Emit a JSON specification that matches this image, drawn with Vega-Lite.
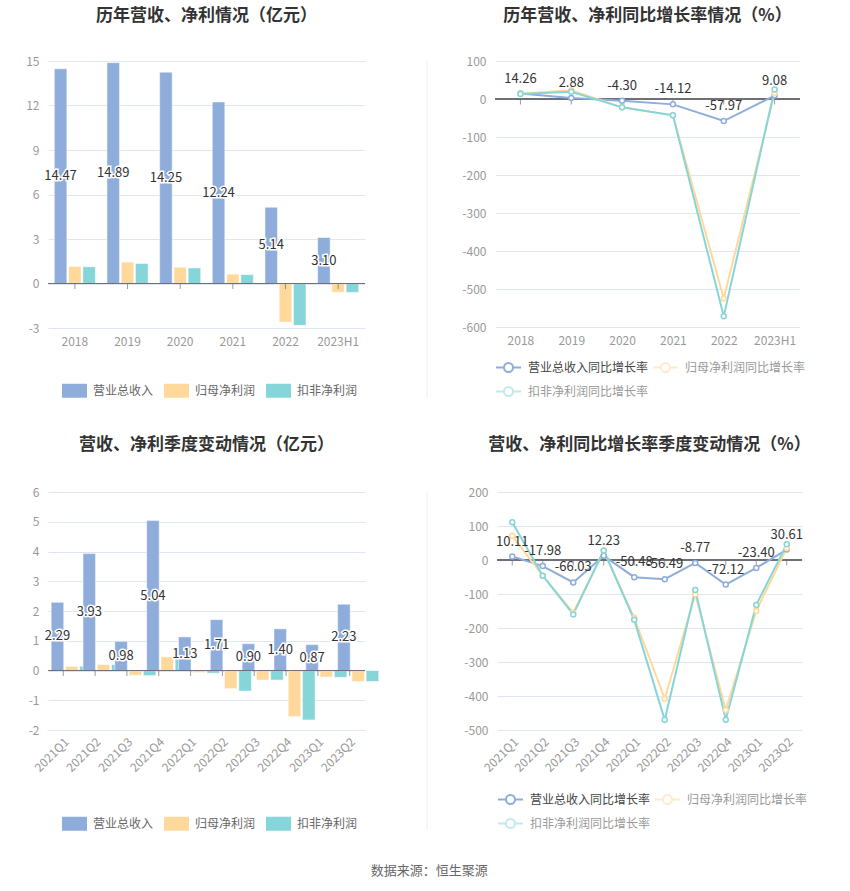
{
  "$schema": "https://vega.github.io/schema/vega-lite/v6.json",
  "padding": {"left": 0, "top": 7, "right": 0, "bottom": 0},
  "background": "white",
  "config": {
    "font": "Noto Sans CJK SC",
    "locale": {"number": {"decimal": ".", "thousands": ",", "grouping": [3], "currency": ["", ""], "minus": "-"}},
    "view": {"stroke": null},
    "axis": {"labelFont": "Noto Sans CJK SC", "labelColor": "#999999", "labelFontSize": 12, "gridColor": "#E0E6F1", "domain": false, "ticks": false},
    "title": {"font": "Noto Sans CJK SC", "fontSize": 17, "fontWeight": "bold", "color": "#333333", "anchor": "middle", "offset": 30},
    "legend": {"labelFont": "Noto Sans CJK SC", "labelFontSize": 12, "labelColor": "#666666", "orient": "bottom", "direction": "horizontal"}
  },
  "datasets": {
    "annual": [
      {"period": "2018", "营业总收入": 14.47, "归母净利润": 1.15, "扣非净利润": 1.13},
      {"period": "2019", "营业总收入": 14.89, "归母净利润": 1.44, "扣非净利润": 1.35},
      {"period": "2020", "营业总收入": 14.25, "归母净利润": 1.10, "扣非净利润": 1.05},
      {"period": "2021", "营业总收入": 12.24, "归母净利润": 0.63, "扣非净利润": 0.60},
      {"period": "2022", "营业总收入": 5.14, "归母净利润": -2.60, "扣非净利润": -2.82},
      {"period": "2023H1", "营业总收入": 3.10, "归母净利润": -0.59, "扣非净利润": -0.60}
    ],
    "annualGrowth": [
      {"period": "2018", "营业总收入同比增长率": 14.26, "归母净利润同比增长率": 14, "扣非净利润同比增长率": 13},
      {"period": "2019", "营业总收入同比增长率": 2.88, "归母净利润同比增长率": 23, "扣非净利润同比增长率": 19},
      {"period": "2020", "营业总收入同比增长率": -4.30, "归母净利润同比增长率": -22, "扣非净利润同比增长率": -22},
      {"period": "2021", "营业总收入同比增长率": -14.12, "归母净利润同比增长率": -43, "扣非净利润同比增长率": -43},
      {"period": "2022", "营业总收入同比增长率": -57.97, "归母净利润同比增长率": -525, "扣非净利润同比增长率": -572},
      {"period": "2023H1", "营业总收入同比增长率": 9.08, "归母净利润同比增长率": 15, "扣非净利润同比增长率": 25}
    ],
    "quarter": [
      {"period": "2021Q1", "营业总收入": 2.29, "归母净利润": 0.14, "扣非净利润": 0.14},
      {"period": "2021Q2", "营业总收入": 3.93, "归母净利润": 0.20, "扣非净利润": 0.20},
      {"period": "2021Q3", "营业总收入": 0.98, "归母净利润": -0.16, "扣非净利润": -0.17},
      {"period": "2021Q4", "营业总收入": 5.04, "归母净利润": 0.46, "扣非净利润": 0.46},
      {"period": "2022Q1", "营业总收入": 1.13, "归母净利润": -0.07, "扣非净利润": -0.09},
      {"period": "2022Q2", "营业总收入": 1.71, "归母净利润": -0.61, "扣非净利润": -0.69},
      {"period": "2022Q3", "营业总收入": 0.90, "归母净利润": -0.32, "扣非净利润": -0.32},
      {"period": "2022Q4", "营业总收入": 1.40, "归母净利润": -1.55, "扣非净利润": -1.66},
      {"period": "2023Q1", "营业总收入": 0.87, "归母净利润": -0.22, "扣非净利润": -0.23},
      {"period": "2023Q2", "营业总收入": 2.23, "归母净利润": -0.37, "扣非净利润": -0.37}
    ],
    "quarterGrowth": [
      {"period": "2021Q1", "营业总收入同比增长率": 10.11, "归母净利润同比增长率": 71, "扣非净利润同比增长率": 111},
      {"period": "2021Q2", "营业总收入同比增长率": -17.98, "归母净利润同比增长率": -46, "扣非净利润同比增长率": -46},
      {"period": "2021Q3", "营业总收入同比增长率": -66.03, "归母净利润同比增长率": -155, "扣非净利润同比增长率": -160},
      {"period": "2021Q4", "营业总收入同比增长率": 12.23, "归母净利润同比增长率": 27, "扣非净利润同比增长率": 28},
      {"period": "2022Q1", "营业总收入同比增长率": -50.48, "归母净利润同比增长率": -170, "扣非净利润同比增长率": -176},
      {"period": "2022Q2", "营业总收入同比增长率": -56.49, "归母净利润同比增长率": -408, "扣非净利润同比增长率": -470},
      {"period": "2022Q3", "营业总收入同比增长率": -8.77, "归母净利润同比增长率": -101, "扣非净利润同比增长率": -88},
      {"period": "2022Q4", "营业总收入同比增长率": -72.12, "归母净利润同比增长率": -441, "扣非净利润同比增长率": -470},
      {"period": "2023Q1", "营业总收入同比增长率": -23.40, "归母净利润同比增长率": -150, "扣非净利润同比增长率": -132},
      {"period": "2023Q2", "营业总收入同比增长率": 30.61, "归母净利润同比增长率": 35, "扣非净利润同比增长率": 46}
    ]
  },
  "title": {"text": "数据来源：恒生聚源", "orient": "bottom", "anchor": "middle", "fontSize": 13, "fontWeight": "normal", "color": "#666666", "offset": 20, "dx": 24},
  "spacing": 24,
  "resolve": {"scale": {"color": "independent"}, "legend": {"color": "independent"}},
  "vconcat": [
    {
      "spacing": 10,
      "resolve": {"scale": {"color": "independent"}, "legend": {"color": "independent"}},
      "hconcat": [
        {
          "width": 317, "height": 267,
          "title": {"text": "历年营收、净利情况（亿元）"},
          "data": {"name": "annual"},
          "transform": [{"fold": ["营业总收入", "归母净利润", "扣非净利润"], "as": ["series", "value"]}],
          "encoding": {
            "x": {"field": "period", "type": "nominal", "sort": null, "title": null, "scale": {"paddingInner": 0.22, "paddingOuter": 0.12}, "axis": {"labelAngle": 0, "labelPadding": 8}},
            "y": {"field": "value", "type": "quantitative", "title": null, "scale": {"domain": [-3, 15], "nice": false}, "axis": {"values": [-3, 0, 3, 6, 9, 12, 15], "minExtent": 48, "maxExtent": 48, "labelPadding": 9}}
          },
          "layer": [
            {
              "mark": {"type": "bar", "stroke": "white", "strokeWidth": 0.5},
              "encoding": {
                "xOffset": {"field": "series", "sort": ["营业总收入", "归母净利润", "扣非净利润"], "scale": {"paddingInner": 0.12}},
                "color": {"field": "series", "type": "nominal", "sort": ["营业总收入", "归母净利润", "扣非净利润"], "scale": {"domain": ["营业总收入", "归母净利润", "扣非净利润"], "range": ["#8FADDB", "#FFD99B", "#86D5D8"]},
                  "legend": {"title": null, "offset": 17, "padding": 14, "symbolType": "M-1,-0.56H1V0.56H-1Z", "symbolSize": 625, "symbolStrokeWidth": 0, "labelOffset": 6, "columnPadding": 10,
                    "encode": {"labels": {"update": {"fill": {"signal": "datum.index === 0 ? '#444444' : '#999999'"}}}}}}
              }
            },
            {"mark": {"type": "rule", "color": "#6E7079"}, "encoding": {"x": null, "y": {"datum": 0, "type": "quantitative", "title": null, "axis": {"values": [-3, 0, 3, 6, 9, 12, 15], "minExtent": 48, "maxExtent": 48, "labelPadding": 9}}}},
            {"transform": [{"filter": "datum.series === '营业总收入'"}], "mark": {"type": "tick", "orient": "vertical", "size": 5, "thickness": 1, "yOffset": 3, "color": "#6E7079"}, "encoding": {"y": {"datum": 0, "type": "quantitative", "title": null, "axis": {"values": [-3, 0, 3, 6, 9, 12, 15], "minExtent": 48, "maxExtent": 48, "labelPadding": 9}}}},
            {
              "transform": [{"filter": "datum.series === '营业总收入'"}],
              "mark": {"type": "text", "fontSize": 13, "color": "#333333", "stroke": "white", "strokeWidth": 3, "baseline": "middle"},
              "encoding": {
                "xOffset": {"field": "series", "sort": ["营业总收入", "归母净利润", "扣非净利润"]},
                "y": {"field": "value", "type": "quantitative", "stack": "zero", "bandPosition": 0.5, "title": null, "axis": {"values": [-3, 0, 3, 6, 9, 12, 15], "minExtent": 48, "maxExtent": 48, "labelPadding": 9}},
                "text": {"field": "value", "type": "quantitative", "format": ".2f"}
              }
            },
            {
              "transform": [{"filter": "datum.series === '营业总收入'"}],
              "mark": {"type": "text", "fontSize": 13, "color": "#333333", "baseline": "middle"},
              "encoding": {
                "xOffset": {"field": "series", "sort": ["营业总收入", "归母净利润", "扣非净利润"]},
                "y": {"field": "value", "type": "quantitative", "stack": "zero", "bandPosition": 0.5, "title": null, "axis": {"values": [-3, 0, 3, 6, 9, 12, 15], "minExtent": 48, "maxExtent": 48, "labelPadding": 9}},
                "text": {"field": "value", "type": "quantitative", "format": ".2f"}
              }
            }
          ]
        },
        {
          "width": 55, "height": 337,
          "data": {"values": [{}]},
          "mark": {"type": "rule", "color": "#EEEEEE"},
          "encoding": {"x": {"datum": 45, "type": "quantitative", "scale": {"domain": [0, 55]}, "axis": null}}
        },
        {
          "width": 305, "height": 266,
          "title": {"text": "历年营收、净利同比增长率情况（%）"},
          "data": {"name": "annualGrowth"},
          "transform": [{"fold": ["营业总收入同比增长率", "归母净利润同比增长率", "扣非净利润同比增长率"], "as": ["series", "value"]}],
          "encoding": {
            "x": {"field": "period", "type": "ordinal", "sort": null, "title": null, "scale": {"type": "point", "padding": 0.5}, "axis": {"labelAngle": 0, "labelPadding": 8}},
            "y": {"field": "value", "type": "quantitative", "title": null, "scale": {"domain": [-600, 100], "nice": false}, "axis": {"values": [-600, -500, -400, -300, -200, -100, 0, 100], "minExtent": 48, "maxExtent": 48, "labelPadding": 9}}
          },
          "layer": [
            {"mark": {"type": "rule", "color": "#6E7079"}, "encoding": {"x": null, "y": {"datum": 0, "type": "quantitative", "title": null, "axis": {"values": [-600, -500, -400, -300, -200, -100, 0, 100], "minExtent": 48, "maxExtent": 48, "labelPadding": 9}}}},
            {"transform": [{"filter": "datum.series === '营业总收入同比增长率'"}], "mark": {"type": "tick", "orient": "vertical", "size": 5, "thickness": 1, "yOffset": 3, "color": "#6E7079"}, "encoding": {"y": {"datum": 0, "type": "quantitative", "title": null, "axis": {"values": [-600, -500, -400, -300, -200, -100, 0, 100], "minExtent": 48, "maxExtent": 48, "labelPadding": 9}}}},
            {
              "mark": {"type": "line", "strokeWidth": 2},
              "encoding": {
                "color": {"field": "series", "type": "nominal", "sort": ["营业总收入同比增长率", "归母净利润同比增长率", "扣非净利润同比增长率"], "scale": {"domain": ["营业总收入同比增长率", "归母净利润同比增长率", "扣非净利润同比增长率"], "range": ["#8FADDB", "#FFD99B", "#86D5D8"]},
                  "legend": {"title": null, "columns": 2, "offset": 8, "symbolType": "M-1,0H-0.36M0.36,0H1M0.36,0A0.36,0.36,0,1,1,-0.36,0A0.36,0.36,0,1,1,0.36,0", "symbolSize": 625, "symbolStrokeWidth": 2, "symbolFillColor": "white", "labelOffset": 6, "columnPadding": 0, "rowPadding": 2,
                    "encode": {"labels": {"update": {"fill": {"signal": "datum.index === 0 ? '#444444' : '#999999'"}}}, "symbols": {"update": {"opacity": {"signal": "datum.index === 0 ? 1 : 0.5"}}}}}}
              }
            },
            {
              "mark": {"type": "point", "filled": false, "fill": "white", "strokeWidth": 1.5, "size": 25, "opacity": 1},
              "encoding": {
                "color": {"field": "series", "type": "nominal", "sort": ["营业总收入同比增长率", "归母净利润同比增长率", "扣非净利润同比增长率"], "scale": {"domain": ["营业总收入同比增长率", "归母净利润同比增长率", "扣非净利润同比增长率"], "range": ["#8FADDB", "#FFD99B", "#86D5D8"]},
                  "legend": {"title": null, "columns": 2, "offset": 8, "symbolType": "M-1,0H-0.36M0.36,0H1M0.36,0A0.36,0.36,0,1,1,-0.36,0A0.36,0.36,0,1,1,0.36,0", "symbolSize": 625, "symbolStrokeWidth": 2, "symbolFillColor": "white", "labelOffset": 6, "columnPadding": 0, "rowPadding": 2,
                    "encode": {"labels": {"update": {"fill": {"signal": "datum.index === 0 ? '#444444' : '#999999'"}}}, "symbols": {"update": {"opacity": {"signal": "datum.index === 0 ? 1 : 0.5"}}}}}}
              }
            },
            {
              "transform": [{"filter": "datum.series === '营业总收入同比增长率'"}],
              "mark": {"type": "text", "fontSize": 13, "color": "#333333", "dy": -15},
              "encoding": {"text": {"field": "value", "type": "quantitative", "format": ".2f"}}
            }
          ]
        }
      ]
    },
    {
      "spacing": 10,
      "resolve": {"scale": {"color": "independent"}, "legend": {"color": "independent"}},
      "hconcat": [
        {
          "width": 317, "height": 238,
          "title": {"text": "营收、净利季度变动情况（亿元）", "offset": 32},
          "data": {"name": "quarter"},
          "transform": [{"fold": ["营业总收入", "归母净利润", "扣非净利润"], "as": ["series", "value"]}],
          "encoding": {
            "x": {"field": "period", "type": "nominal", "sort": null, "title": null, "scale": {"paddingInner": 0.24, "paddingOuter": 0.1}, "axis": {"labelAngle": -45, "labelPadding": 6}},
            "y": {"field": "value", "type": "quantitative", "title": null, "scale": {"domain": [-2, 6], "nice": false}, "axis": {"values": [-2, -1, 0, 1, 2, 3, 4, 5, 6], "minExtent": 48, "maxExtent": 48, "labelPadding": 9}}
          },
          "layer": [
            {
              "mark": {"type": "bar", "stroke": "white", "strokeWidth": 0.5},
              "encoding": {
                "xOffset": {"field": "series", "sort": ["营业总收入", "归母净利润", "扣非净利润"], "scale": {"paddingInner": 0.12}},
                "color": {"field": "series", "type": "nominal", "sort": ["营业总收入", "归母净利润", "扣非净利润"], "scale": {"domain": ["营业总收入", "归母净利润", "扣非净利润"], "range": ["#8FADDB", "#FFD99B", "#86D5D8"]},
                  "legend": {"title": null, "offset": 23, "padding": 14, "symbolType": "M-1,-0.56H1V0.56H-1Z", "symbolSize": 625, "symbolStrokeWidth": 0, "labelOffset": 6, "columnPadding": 10,
                    "encode": {"labels": {"update": {"fill": {"signal": "datum.index === 0 ? '#444444' : '#999999'"}}}}}}
              }
            },
            {"mark": {"type": "rule", "color": "#6E7079"}, "encoding": {"x": null, "y": {"datum": 0, "type": "quantitative", "title": null, "axis": {"values": [-2, -1, 0, 1, 2, 3, 4, 5, 6], "minExtent": 48, "maxExtent": 48, "labelPadding": 9}}}},
            {"transform": [{"filter": "datum.series === '营业总收入'"}], "mark": {"type": "tick", "orient": "vertical", "size": 5, "thickness": 1, "yOffset": 3, "color": "#6E7079"}, "encoding": {"y": {"datum": 0, "type": "quantitative", "title": null, "axis": {"values": [-2, -1, 0, 1, 2, 3, 4, 5, 6], "minExtent": 48, "maxExtent": 48, "labelPadding": 9}}}},
            {
              "transform": [{"filter": "datum.series === '营业总收入'"}],
              "mark": {"type": "text", "fontSize": 13, "color": "#333333", "stroke": "white", "strokeWidth": 3, "baseline": "middle"},
              "encoding": {
                "xOffset": {"field": "series", "sort": ["营业总收入", "归母净利润", "扣非净利润"]},
                "y": {"field": "value", "type": "quantitative", "stack": "zero", "bandPosition": 0.5, "title": null, "axis": {"values": [-2, -1, 0, 1, 2, 3, 4, 5, 6], "minExtent": 48, "maxExtent": 48, "labelPadding": 9}},
                "text": {"field": "value", "type": "quantitative", "format": ".2f"}
              }
            },
            {
              "transform": [{"filter": "datum.series === '营业总收入'"}],
              "mark": {"type": "text", "fontSize": 13, "color": "#333333", "baseline": "middle"},
              "encoding": {
                "xOffset": {"field": "series", "sort": ["营业总收入", "归母净利润", "扣非净利润"]},
                "y": {"field": "value", "type": "quantitative", "stack": "zero", "bandPosition": 0.5, "title": null, "axis": {"values": [-2, -1, 0, 1, 2, 3, 4, 5, 6], "minExtent": 48, "maxExtent": 48, "labelPadding": 9}},
                "text": {"field": "value", "type": "quantitative", "format": ".2f"}
              }
            }
          ]
        },
        {
          "width": 50, "height": 338,
          "data": {"values": [{}]},
          "mark": {"type": "rule", "color": "#EEEEEE"},
          "encoding": {"x": {"datum": 38, "type": "quantitative", "scale": {"domain": [0, 50]}, "axis": null}}
        },
        {
          "width": 305, "height": 238,
          "title": {"text": "营收、净利同比增长率季度变动情况（%）", "offset": 32},
          "data": {"name": "quarterGrowth"},
          "transform": [{"fold": ["营业总收入同比增长率", "归母净利润同比增长率", "扣非净利润同比增长率"], "as": ["series", "value"]}],
          "encoding": {
            "x": {"field": "period", "type": "ordinal", "sort": null, "title": null, "scale": {"type": "point", "padding": 0.5}, "axis": {"labelAngle": -45, "labelPadding": 6}},
            "y": {"field": "value", "type": "quantitative", "title": null, "scale": {"domain": [-500, 200], "nice": false}, "axis": {"values": [-500, -400, -300, -200, -100, 0, 100, 200], "minExtent": 48, "maxExtent": 48, "labelPadding": 9}}
          },
          "layer": [
            {"mark": {"type": "rule", "color": "#6E7079"}, "encoding": {"x": null, "y": {"datum": 0, "type": "quantitative", "title": null, "axis": {"values": [-500, -400, -300, -200, -100, 0, 100, 200], "minExtent": 48, "maxExtent": 48, "labelPadding": 9}}}},
            {"transform": [{"filter": "datum.series === '营业总收入同比增长率'"}], "mark": {"type": "tick", "orient": "vertical", "size": 5, "thickness": 1, "yOffset": 3, "color": "#6E7079"}, "encoding": {"y": {"datum": 0, "type": "quantitative", "title": null, "axis": {"values": [-500, -400, -300, -200, -100, 0, 100, 200], "minExtent": 48, "maxExtent": 48, "labelPadding": 9}}}},
            {
              "mark": {"type": "line", "strokeWidth": 2},
              "encoding": {
                "color": {"field": "series", "type": "nominal", "sort": ["营业总收入同比增长率", "归母净利润同比增长率", "扣非净利润同比增长率"], "scale": {"domain": ["营业总收入同比增长率", "归母净利润同比增长率", "扣非净利润同比增长率"], "range": ["#8FADDB", "#FFD99B", "#86D5D8"]},
                  "legend": {"title": null, "columns": 2, "offset": 12, "symbolType": "M-1,0H-0.36M0.36,0H1M0.36,0A0.36,0.36,0,1,1,-0.36,0A0.36,0.36,0,1,1,0.36,0", "symbolSize": 625, "symbolStrokeWidth": 2, "symbolFillColor": "white", "labelOffset": 6, "columnPadding": 0, "rowPadding": 2,
                    "encode": {"labels": {"update": {"fill": {"signal": "datum.index === 0 ? '#444444' : '#999999'"}}}, "symbols": {"update": {"opacity": {"signal": "datum.index === 0 ? 1 : 0.5"}}}}}}
              }
            },
            {
              "mark": {"type": "point", "filled": false, "fill": "white", "strokeWidth": 1.5, "size": 25, "opacity": 1},
              "encoding": {
                "color": {"field": "series", "type": "nominal", "sort": ["营业总收入同比增长率", "归母净利润同比增长率", "扣非净利润同比增长率"], "scale": {"domain": ["营业总收入同比增长率", "归母净利润同比增长率", "扣非净利润同比增长率"], "range": ["#8FADDB", "#FFD99B", "#86D5D8"]},
                  "legend": {"title": null, "columns": 2, "offset": 12, "symbolType": "M-1,0H-0.36M0.36,0H1M0.36,0A0.36,0.36,0,1,1,-0.36,0A0.36,0.36,0,1,1,0.36,0", "symbolSize": 625, "symbolStrokeWidth": 2, "symbolFillColor": "white", "labelOffset": 6, "columnPadding": 0, "rowPadding": 2,
                    "encode": {"labels": {"update": {"fill": {"signal": "datum.index === 0 ? '#444444' : '#999999'"}}}, "symbols": {"update": {"opacity": {"signal": "datum.index === 0 ? 1 : 0.5"}}}}}}
              }
            },
            {
              "transform": [{"filter": "datum.series === '营业总收入同比增长率'"}],
              "mark": {"type": "text", "fontSize": 13, "color": "#333333", "dy": -15},
              "encoding": {"text": {"field": "value", "type": "quantitative", "format": ".2f"}}
            }
          ]
        }
      ]
    }
  ]
}
